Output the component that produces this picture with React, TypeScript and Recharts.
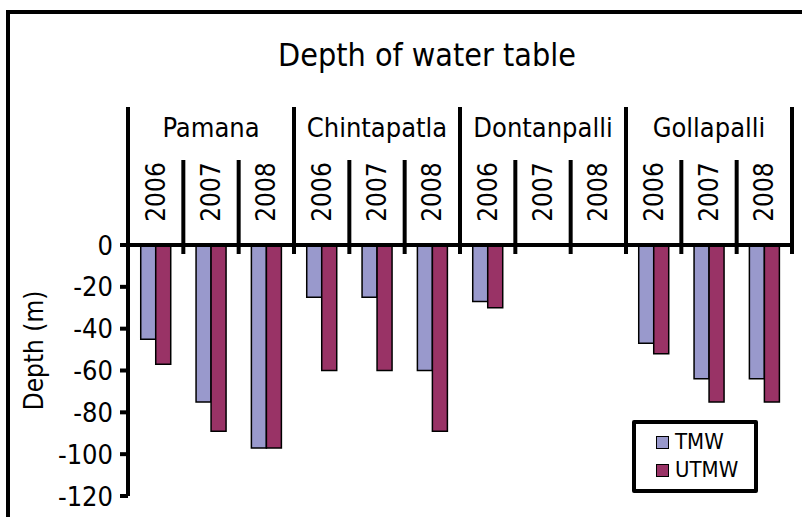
import React from 'react';
import { BarChart, Bar, XAxis, YAxis, Legend } from 'recharts';

const sites = ['Pamana', 'Chintapatla', 'Dontanpalli', 'Gollapalli'];
const years = ['2006', '2007', '2008'];
// Depth (m) per site-year, in site order then year order
const tmwDepth: (number | null)[] = [-45, -75, -97, -25, -25, -60, -27, null, null, -47, -64, -64];
const utmwDepth: (number | null)[] = [-57, -89, -97, -60, -60, -89, -30, null, null, -52, -75, -75];
const yTicks = [0, -20, -40, -60, -80, -100, -120];

const FONT = "'DejaVu Sans Condensed', 'DejaVu Sans', sans-serif";
const TMW_COLOR = '#9999CC';
const UTMW_COLOR = '#993366';

const rows = sites.flatMap((site, si) =>
  years.map((year, yi) => ({
    key: `${site}-${year}`,
    site,
    year,
    TMW: tmwDepth[si * 3 + yi],
    UTMW: utmwDepth[si * 3 + yi],
  }))
);

function SiteYearTick(props: any) {
  const { x, y, index, width, payload } = props;
  const band = width / rows.length;
  const row = rows[index] ?? rows.find((r) => r.key === payload.value);
  const left = x - band / 2;
  const right = x + band / 2;
  const groupStart = index % 3 === 0;
  const isLast = index === rows.length - 1;
  return (
    <g>
      <line
        x1={left}
        x2={left}
        y1={groupStart ? y - 138 : y - 85}
        y2={y + 9}
        stroke="#000"
        strokeWidth={4}
      />
      {isLast && (
        <line x1={right} x2={right} y1={y - 138} y2={y + 9} stroke="#000" strokeWidth={4} />
      )}
      {index % 3 === 1 && (
        <text x={x} y={y - 108} textAnchor="middle" fontSize={27} fontFamily={FONT} fill="#000">
          {row.site}
        </text>
      )}
      <text
        x={x}
        y={y - 53}
        transform={`rotate(-90 ${x} ${y - 53})`}
        textAnchor="middle"
        dominantBaseline="central"
        fontSize={26}
        fontFamily={FONT}
        fill="#000"
      >
        {row.year}
      </text>
    </g>
  );
}

function DepthLabel(props: any) {
  const vb = props.viewBox || { x: 0, y: 245, width: 128, height: 251 };
  const cx = vb.x + 34;
  const cy = vb.y + vb.height / 2 - 20;
  return (
    <text
      x={cx}
      y={cy}
      transform={`rotate(-90 ${cx} ${cy})`}
      textAnchor="middle"
      dominantBaseline="central"
      fontSize={26}
      fontFamily={FONT}
      fill="#000"
    >
      Depth (m)
    </text>
  );
}

function LegendBox() {
  const items = [
    { name: 'TMW', color: TMW_COLOR },
    { name: 'UTMW', color: UTMW_COLOR },
  ];
  return (
    <div
      style={{
        width: 126,
        height: 73,
        boxSizing: 'border-box',
        border: '4px solid #000',
        borderRadius: 2,
        background: '#fff',
        paddingTop: 4,
        fontFamily: FONT,
      }}
    >
      {items.map((it) => (
        <div key={it.name} style={{ display: 'flex', alignItems: 'center', height: 28, paddingLeft: 20 }}>
          <span
            style={{
              display: 'inline-block',
              width: 11,
              height: 11,
              background: it.color,
              border: '1.5px solid #000',
              marginRight: 6,
            }}
          />
          <span style={{ fontSize: 22, color: '#000', lineHeight: '28px' }}>{it.name}</span>
        </div>
      ))}
    </div>
  );
}

export default function App() {
  return (
    <div style={{ position: 'absolute', left: 0, top: 0, width: 802, height: 517, overflow: 'hidden', background: '#fff' }}>
      <div
        style={{
          position: 'absolute',
          left: 6,
          top: 10,
          width: 850,
          height: 600,
          border: '4px solid #000',
          boxSizing: 'border-box',
        }}
      />
      <div
        style={{
          position: 'absolute',
          left: 0,
          width: 854,
          top: 34,
          textAlign: 'center',
          fontFamily: FONT,
          fontSize: 32,
          lineHeight: '42px',
          color: '#000',
        }}
      >
        Depth of water table
      </div>
      <div style={{ position: 'absolute', left: 0, top: 0 }}>
        <BarChart
          width={802}
          height={517}
          data={rows}
          margin={{ top: 105, right: 10, bottom: 21, left: 0 }}
          barCategoryGap="23%"
          barGap={0}
        >
          <XAxis
            dataKey="key"
            orientation="top"
            height={140}
            interval={0}
            tickSize={0}
            tickMargin={0}
            tickLine={false}
            axisLine={{ stroke: '#000', strokeWidth: 4 }}
            tick={<SiteYearTick />}
          />
          <YAxis
            width={128}
            domain={[-120, 0]}
            ticks={yTicks}
            interval={0}
            tickSize={8}
            tickMargin={7}
            axisLine={{ stroke: '#000', strokeWidth: 4 }}
            tickLine={{ stroke: '#000', strokeWidth: 4 }}
            tick={{ fontSize: 27, fontFamily: FONT, fill: '#000' }}
            label={<DepthLabel />}
          />
          <Legend
            layout="vertical"
            align="center"
            verticalAlign="middle"
            content={<LegendBox />}
            wrapperStyle={{ left: 632, top: 420, width: 126, height: 73 }}
          />
          <Bar dataKey="TMW" fill={TMW_COLOR} stroke="#000" strokeWidth={1.5} isAnimationActive={false} />
          <Bar dataKey="UTMW" fill={UTMW_COLOR} stroke="#000" strokeWidth={1.5} isAnimationActive={false} />
        </BarChart>
      </div>
    </div>
  );
}
